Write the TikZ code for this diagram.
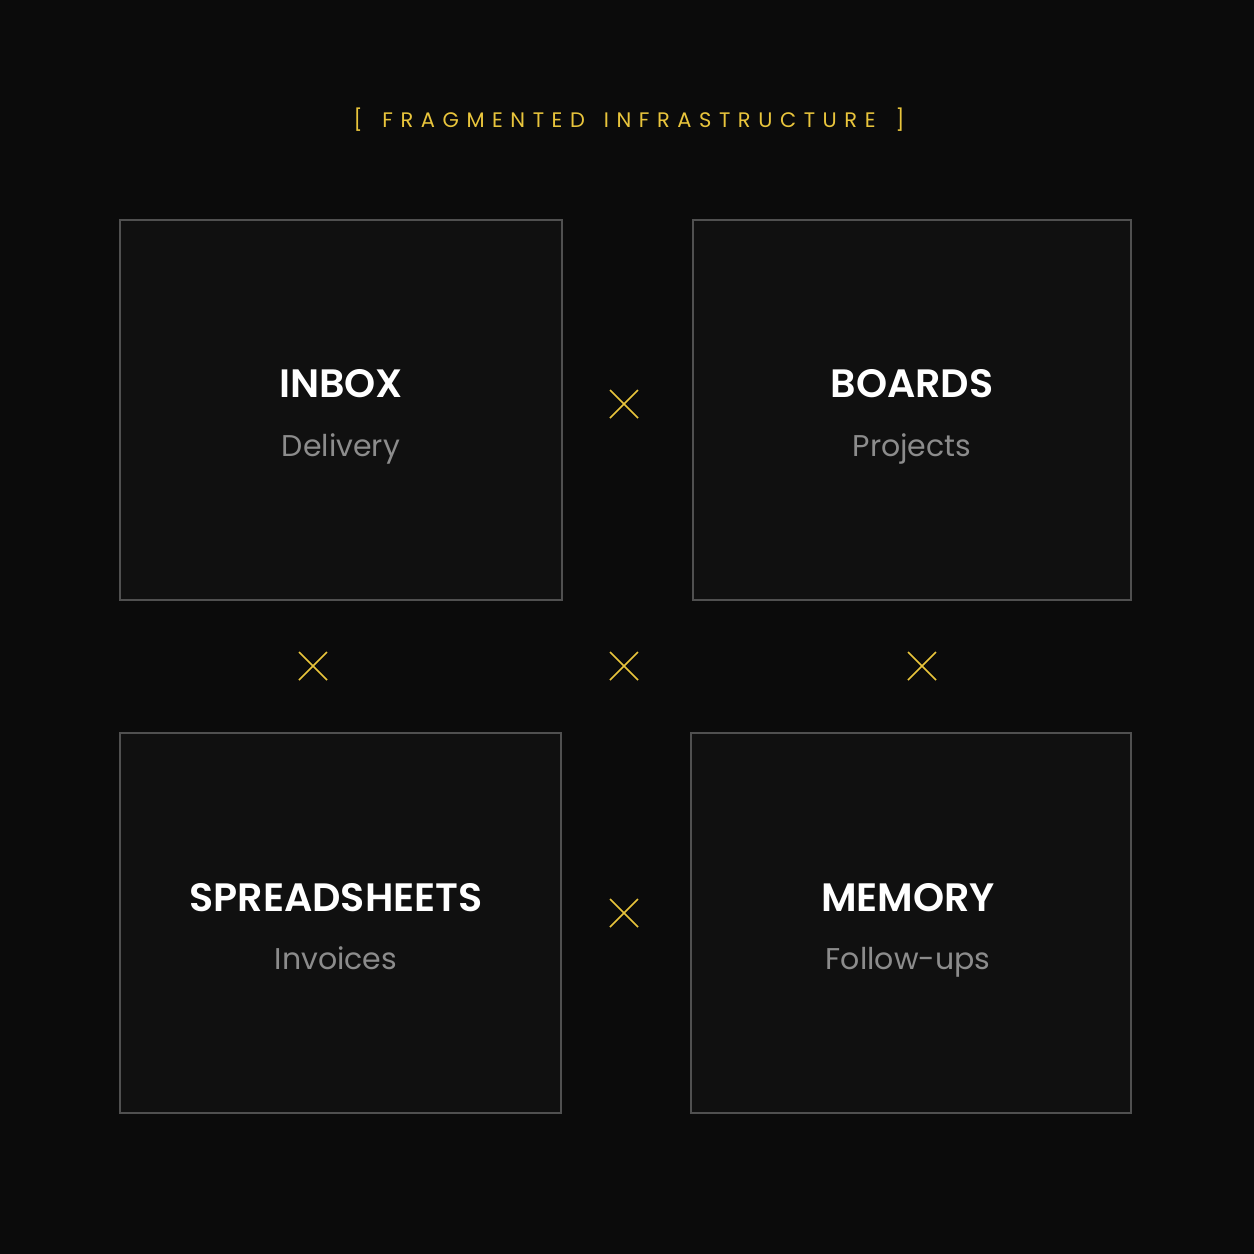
\documentclass[tikz,border=0pt]{standalone}
\usepackage{fontspec}
\setmainfont{Poppins}[BoldFont={Poppins SemiBold}]
\begin{document}
\begin{tikzpicture}[x=1pt,y=-1pt,
  panel/.style={draw=boxline,fill=boxfill,line width=1.1pt},
  head/.style={text=white,font=\fontsize{39.6}{40}\selectfont\bfseries,anchor=base},
  sub/.style={text=subgray,font=\fontsize{30}{30}\selectfont,anchor=base},
  xmark/.style={draw=accent,line width=1.6pt}]
\definecolor{bg}{HTML}{0B0B0B}
\definecolor{boxfill}{HTML}{101010}
\definecolor{boxline}{HTML}{505050}
\definecolor{subgray}{HTML}{8C8C8C}
\definecolor{accent}{HTML}{E9C53C}
\fill[bg] (0,0) rectangle (1254,1254);
\useasboundingbox (0,0) rectangle (1254,1254);
\node[text=accent,anchor=base,font=\fontsize{21}{21}\selectfont\addfontfeatures{LetterSpace=36}] (title) at (629,127) {[\hspace{20pt}FRAGMENTED\hspace{19pt}INFRASTRUCTURE\hspace{20pt}]};
\draw[panel] (120,220) rectangle (562,600);
\draw[panel] (693,220) rectangle (1131,600);
\draw[panel] (120,733) rectangle (561,1113);
\draw[panel] (691,733) rectangle (1131,1113);
\node[head] (h1) at (341,397) {INBOX};
\node[sub] (s1) at (341,456) {Delivery};
\node[head] (h2) at (912,397) {BOARDS};
\node[sub] (s2) at (912,456) {Projects};
\node[head] (h3) at (336,911) {SPREADSHEETS};
\node[sub] (s3) at (336,969) {Invoices};
\node[head] (h4) at (908,911) {MEMORY};
\node[sub] (s4) at (908,969) {Follow-ups};
\foreach \n/\cx/\cy in {a/624/404,b/313/666,c/624/666,d/922/666,e/624/913}{
  \coordinate (\n) at (\cx,\cy);
  \draw[xmark] ([shift={(-14,-14)}]\n) -- ([shift={(14,14)}]\n);
  \draw[xmark] ([shift={(-14,14)}]\n) -- ([shift={(14,-14)}]\n);
}
\end{tikzpicture}
\end{document}
